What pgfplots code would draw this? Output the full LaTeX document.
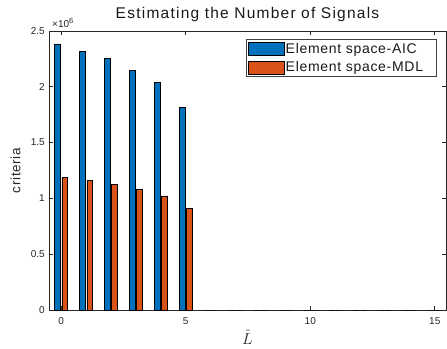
\documentclass[border=0pt]{standalone}
\usepackage{pgfplots}
\pgfplotsset{compat=1.18}
\usepackage{fontspec}
\setmainfont{Liberation Sans}
\newfontfamily\titlefam[LetterSpace=8]{Liberation Sans}
\newfontfamily\legfam[LetterSpace=5]{Liberation Sans}
\definecolor{mblue}{RGB}{0,114,189}
\definecolor{morange}{RGB}{217,83,25}
\definecolor{axgray}{RGB}{38,38,38}
\pgfplotstableread{
x aic mdl
0 2384000 1189000
1 2318000 1159000
2 2252000 1123000
3 2148000 1078000
4 2040000 1022000
5 1816000 908000
6 0 0
7 0 0
8 0 0
9 0 0
10 0 0
11 0 0
12 0 0
13 0 0
14 0 0
15 0 0
}\datatable
\begin{document}
\begin{tikzpicture}
\path[use as bounding box] (-49bp,-39bp) rectangle (398bp,310bp);
\begin{axis}[
  at={(0,0)}, anchor=south west,
  scale only axis, width=397bp, height=279bp,
  xmin=-0.49, xmax=15.45, ymin=0, ymax=2500000,
  xtick={0,5,10,15},
  ytick={0,500000,1000000,1500000,2000000,2500000},
  scaled y ticks=base 10:-6,
  ytick scale label code/.code={},
  /pgf/number format/assume math mode=true,
  yticklabel style={/pgf/number format/fixed, font=\fontsize{10bp}{12bp}\selectfont, text=axgray, inner sep=1bp},
  xticklabel style={font=\fontsize{10bp}{12bp}\selectfont, text=axgray, inner sep=1bp},
  xticklabel shift=6bp, yticklabel shift=3bp,
  tick align=inside, tick pos=both, major tick length=4bp,
  axis line style={draw=axgray, line width=0.6bp},
  tick style={draw=axgray, line width=0.6bp},
  title={Estimating the Number of Signals},
  title style={at={(0.5,1)}, anchor=south, yshift=2bp, inner sep=1bp, font=\titlefam\fontsize{15.5bp}{18bp}\selectfont, text=black!90},
  ylabel={criteria},
  every axis y label/.style={at={(axis description cs:-0.0844,0.5)}, rotate=90, anchor=center, font=\legfam\fontsize{13.5bp}{16bp}\selectfont, text=axgray},
  xlabel={\scalebox{1.33}{$\hat{L}$}},
  every axis x label/.style={at={(axis description cs:0.5,-0.097)}, anchor=center, inner sep=0pt, font=\fontsize{13bp}{15bp}\selectfont, text=axgray},
  legend style={at={(0.977,0.971)}, anchor=north east, draw=black!75, line width=0.6bp,
    font=\legfam\fontsize{14bp}{16bp}\selectfont, inner xsep=1bp, inner ysep=1.5bp, row sep=3bp,
    nodes={inner xsep=1.5bp, inner ysep=2bp, text=black!90}},
  legend cell align=left,
  legend image code/.code={\draw[#1, draw=black, line width=0.6bp] (0bp,-6.5bp) rectangle (36bp,6.5bp);},
]
\addplot[ybar, bar width=0.23, bar shift=-0.145, fill=mblue, draw=black, line width=0.7bp] table[x=x, y=aic] {\datatable};
\addlegendentry{Element space-AIC\hspace*{11bp}}
\addplot[ybar, bar width=0.23, bar shift=0.145, fill=morange, draw=black, line width=0.7bp] table[x=x, y=mdl] {\datatable};
\addlegendentry{Element space-MDL\hspace*{11bp}}
\end{axis}
\node[anchor=base west, inner sep=0pt, text=axgray, font=\fontsize{10bp}{12bp}\selectfont] at (3bp,282.5bp) {×10\raisebox{4bp}{\fontsize{7.5bp}{9bp}\selectfont 6}};
\end{tikzpicture}
\end{document}
